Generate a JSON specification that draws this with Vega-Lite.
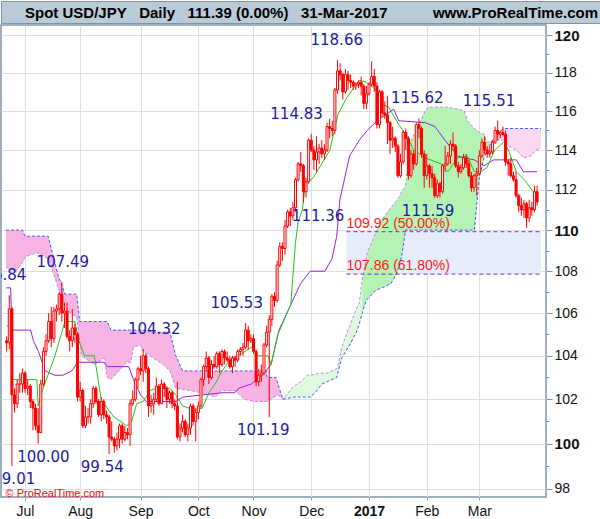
{
  "$schema": "https://vega.github.io/schema/vega-lite/v6.json",
  "padding": 0,
  "autosize": {"type": "pad"},
  "background": "#ffffff",
  "spacing": 0,
  "config": {"view": {"stroke": null}, "font": "Liberation Sans", "concat": {"spacing": 0}},
  "datasets": {
    "ohlc": [
      {"i":1,"o":104.7,"h":104.9,"l":104.2,"c":104.6},{"i":2,"o":104.6,"h":106.84,"l":104.3,"c":106.2},{"i":3,"o":106.2,"h":106.3,"l":99.01,"c":102.2},{"i":4,"o":102.2,"h":102.5,"l":101.4,"c":101.8},{"i":5,"o":101.8,"h":102.9,"l":101.6,"c":102.7},{"i":6,"o":102.7,"h":103.2,"l":102.3,"c":102.7},{"i":7,"o":102.7,"h":103.4,"l":102.3,"c":103.2},{"i":8,"o":103.2,"h":103.3,"l":102.3,"c":102.5},{"i":9,"o":102.5,"h":102.9,"l":102.2,"c":102.6},{"i":10,"o":102.6,"h":102.7,"l":101.6,"c":101.9},
      {"i":11,"o":101.9,"h":102.0,"l":100.6,"c":101.6},{"i":12,"o":101.6,"h":101.8,"l":100.6,"c":100.8},{"i":13,"o":100.8,"h":101.6,"l":100.0,"c":100.5},{"i":14,"o":100.5,"h":102.9,"l":100.5,"c":102.7},{"i":15,"o":102.7,"h":104.4,"l":102.6,"c":104.2},{"i":16,"o":104.2,"h":105.0,"l":104.0,"c":104.7},{"i":17,"o":104.7,"h":106.0,"l":104.6,"c":105.6},{"i":18,"o":105.6,"h":106.3,"l":104.4,"c":104.8},{"i":19,"o":104.8,"h":106.3,"l":104.6,"c":106.1},{"i":20,"o":106.1,"h":106.4,"l":105.6,"c":106.2},
      {"i":21,"o":106.2,"h":107.0,"l":105.9,"c":106.9},{"i":22,"o":106.9,"h":107.49,"l":105.6,"c":106.0},{"i":23,"o":106.0,"h":106.5,"l":105.3,"c":106.1},{"i":24,"o":106.1,"h":106.5,"l":104.8,"c":104.9},{"i":25,"o":104.9,"h":105.2,"l":104.2,"c":104.7},{"i":26,"o":104.7,"h":106.2,"l":104.4,"c":105.3},{"i":27,"o":105.3,"h":105.5,"l":104.6,"c":105.0},{"i":28,"o":105.0,"h":105.1,"l":101.9,"c":102.1},{"i":29,"o":102.1,"h":102.8,"l":101.9,"c":102.4},{"i":30,"o":102.4,"h":102.5,"l":100.7,"c":100.8},
      {"i":31,"o":100.8,"h":101.7,"l":100.7,"c":101.2},{"i":32,"o":101.2,"h":101.6,"l":100.9,"c":101.2},{"i":33,"o":101.2,"h":102.0,"l":100.9,"c":101.8},{"i":34,"o":101.8,"h":102.6,"l":101.6,"c":102.5},{"i":35,"o":102.5,"h":102.6,"l":101.8,"c":101.9},{"i":36,"o":101.9,"h":102.0,"l":101.2,"c":101.3},{"i":37,"o":101.3,"h":102.1,"l":101.0,"c":101.9},{"i":38,"o":101.9,"h":102.0,"l":101.1,"c":101.3},{"i":39,"o":101.3,"h":101.5,"l":100.9,"c":101.2},{"i":40,"o":101.2,"h":101.3,"l":99.54,"c":100.3},
      {"i":41,"o":100.3,"h":101.0,"l":100.1,"c":100.2},{"i":42,"o":100.2,"h":100.3,"l":99.6,"c":99.9},{"i":43,"o":99.9,"h":100.5,"l":99.7,"c":100.2},{"i":44,"o":100.2,"h":100.9,"l":99.8,"c":100.8},{"i":45,"o":100.8,"h":100.9,"l":100.0,"c":100.2},{"i":46,"o":100.2,"h":100.8,"l":100.1,"c":100.5},{"i":47,"o":100.5,"h":100.7,"l":100.2,"c":100.4},{"i":48,"o":100.4,"h":102.0,"l":99.9,"c":101.8},{"i":49,"o":101.8,"h":102.4,"l":101.7,"c":102.0},{"i":50,"o":102.0,"h":103.0,"l":101.9,"c":102.9},
      {"i":51,"o":102.9,"h":103.5,"l":102.5,"c":103.4},{"i":52,"o":103.4,"h":104.0,"l":103.1,"c":103.3},{"i":53,"o":103.3,"h":104.32,"l":102.8,"c":104.0},{"i":54,"o":104.0,"h":104.1,"l":103.2,"c":103.4},{"i":55,"o":103.4,"h":103.5,"l":101.2,"c":101.7},{"i":56,"o":101.7,"h":102.2,"l":101.4,"c":101.8},{"i":57,"o":101.8,"h":102.3,"l":101.3,"c":102.0},{"i":58,"o":102.0,"h":103.0,"l":101.9,"c":102.6},{"i":59,"o":102.6,"h":102.7,"l":101.7,"c":101.8},{"i":60,"o":101.8,"h":102.9,"l":101.8,"c":102.7},
      {"i":61,"o":102.7,"h":102.8,"l":102.1,"c":102.5},{"i":62,"o":102.5,"h":102.6,"l":101.6,"c":102.0},{"i":63,"o":102.0,"h":102.4,"l":101.8,"c":102.3},{"i":64,"o":102.3,"h":102.4,"l":101.6,"c":101.8},{"i":65,"o":101.8,"h":102.0,"l":101.5,"c":101.7},{"i":66,"o":101.7,"h":102.8,"l":100.2,"c":100.3},{"i":67,"o":100.3,"h":100.9,"l":100.1,"c":100.7},{"i":68,"o":100.7,"h":101.3,"l":100.5,"c":101.0},{"i":69,"o":101.0,"h":101.1,"l":100.3,"c":100.4},{"i":70,"o":100.4,"h":100.9,"l":100.1,"c":100.7},
      {"i":71,"o":100.7,"h":101.8,"l":100.4,"c":101.7},{"i":72,"o":101.7,"h":101.8,"l":100.8,"c":101.0},{"i":73,"o":101.0,"h":101.6,"l":100.1,"c":101.4},{"i":74,"o":101.4,"h":101.9,"l":101.1,"c":101.7},{"i":75,"o":101.7,"h":103.0,"l":101.6,"c":102.9},{"i":76,"o":102.9,"h":103.6,"l":102.6,"c":103.5},{"i":77,"o":103.5,"h":104.2,"l":103.3,"c":103.9},{"i":78,"o":103.9,"h":104.0,"l":102.7,"c":103.0},{"i":79,"o":103.0,"h":103.8,"l":102.9,"c":103.6},{"i":80,"o":103.6,"h":104.0,"l":103.4,"c":103.5},
      {"i":81,"o":103.5,"h":104.2,"l":103.4,"c":104.1},{"i":82,"o":104.1,"h":104.2,"l":103.2,"c":103.6},{"i":83,"o":103.6,"h":104.3,"l":103.5,"c":104.2},{"i":84,"o":104.2,"h":104.3,"l":103.6,"c":103.9},{"i":85,"o":103.9,"h":104.2,"l":103.7,"c":103.8},{"i":86,"o":103.8,"h":104.0,"l":103.4,"c":103.5},{"i":87,"o":103.5,"h":104.0,"l":103.2,"c":103.9},{"i":88,"o":103.9,"h":104.0,"l":103.5,"c":103.8},{"i":89,"o":103.8,"h":104.3,"l":103.7,"c":104.2},{"i":90,"o":104.2,"h":104.4,"l":104.0,"c":104.3},
      {"i":91,"o":104.3,"h":104.6,"l":104.0,"c":104.4},{"i":92,"o":104.4,"h":105.53,"l":104.3,"c":105.2},{"i":93,"o":105.2,"h":105.4,"l":104.3,"c":104.7},{"i":94,"o":104.7,"h":105.0,"l":104.6,"c":104.8},{"i":95,"o":104.8,"h":105.0,"l":104.1,"c":104.2},{"i":96,"o":104.2,"h":104.3,"l":102.6,"c":102.8},{"i":97,"o":102.8,"h":103.4,"l":102.6,"c":103.1},{"i":98,"o":103.1,"h":103.6,"l":102.8,"c":103.2},{"i":99,"o":103.2,"h":104.6,"l":103.1,"c":104.5},{"i":100,"o":104.5,"h":105.4,"l":104.4,"c":105.1},
      {"i":101,"o":105.1,"h":105.9,"l":101.19,"c":105.7},{"i":102,"o":105.7,"h":106.9,"l":105.4,"c":106.8},{"i":103,"o":106.8,"h":107.0,"l":106.3,"c":106.6},{"i":104,"o":106.6,"h":108.5,"l":106.5,"c":108.3},{"i":105,"o":108.3,"h":109.4,"l":108.2,"c":109.2},{"i":106,"o":109.2,"h":109.4,"l":108.5,"c":109.1},{"i":107,"o":109.1,"h":110.5,"l":108.8,"c":110.2},{"i":108,"o":110.2,"h":111.0,"l":110.1,"c":110.9},{"i":109,"o":110.9,"h":111.1,"l":110.2,"c":110.7},{"i":110,"o":110.7,"h":111.4,"l":110.5,"c":111.1},
      {"i":111,"o":111.1,"h":112.6,"l":110.9,"c":112.5},{"i":112,"o":112.5,"h":113.4,"l":112.4,"c":113.3},{"i":113,"o":113.3,"h":113.9,"l":112.9,"c":113.2},{"i":114,"o":113.2,"h":113.3,"l":111.36,"c":111.9},{"i":115,"o":111.9,"h":112.6,"l":111.6,"c":112.4},{"i":116,"o":112.4,"h":114.6,"l":112.3,"c":114.5},{"i":117,"o":114.5,"h":114.83,"l":113.9,"c":114.0},{"i":118,"o":114.0,"h":114.2,"l":113.0,"c":113.5},{"i":119,"o":113.5,"h":114.7,"l":112.9,"c":113.9},{"i":120,"o":113.9,"h":114.3,"l":113.3,"c":114.1},
      {"i":121,"o":114.1,"h":114.5,"l":113.6,"c":113.8},{"i":122,"o":113.8,"h":114.3,"l":113.5,"c":114.0},{"i":123,"o":114.0,"h":115.4,"l":113.9,"c":115.2},{"i":124,"o":115.2,"h":115.6,"l":114.6,"c":115.1},{"i":125,"o":115.1,"h":115.5,"l":114.7,"c":115.0},{"i":126,"o":115.0,"h":117.2,"l":114.8,"c":117.1},{"i":127,"o":117.1,"h":118.66,"l":116.9,"c":118.1},{"i":128,"o":118.1,"h":118.5,"l":117.6,"c":117.9},{"i":129,"o":117.9,"h":118.0,"l":116.6,"c":117.0},{"i":130,"o":117.0,"h":118.2,"l":116.9,"c":117.9},
      {"i":131,"o":117.9,"h":118.1,"l":117.1,"c":117.6},{"i":132,"o":117.6,"h":117.9,"l":117.2,"c":117.5},{"i":133,"o":117.5,"h":117.6,"l":117.1,"c":117.3},{"i":134,"o":117.3,"h":117.5,"l":117.1,"c":117.4},{"i":135,"o":117.4,"h":117.6,"l":117.2,"c":117.5},{"i":136,"o":117.5,"h":117.8,"l":116.8,"c":117.3},{"i":137,"o":117.3,"h":117.4,"l":116.1,"c":116.4},{"i":138,"o":116.4,"h":117.3,"l":116.1,"c":116.9},{"i":139,"o":116.9,"h":117.5,"l":116.8,"c":117.4},{"i":140,"o":117.4,"h":118.6,"l":117.3,"c":117.8},
      {"i":141,"o":117.8,"h":118.2,"l":117.0,"c":117.3},{"i":142,"o":117.3,"h":117.5,"l":115.1,"c":115.3},{"i":143,"o":115.3,"h":117.1,"l":115.1,"c":117.0},{"i":144,"o":117.0,"h":117.1,"l":115.7,"c":115.9},{"i":145,"o":115.9,"h":116.5,"l":115.6,"c":115.8},{"i":146,"o":115.8,"h":116.8,"l":114.3,"c":115.4},{"i":147,"o":115.4,"h":115.5,"l":113.8,"c":114.5},{"i":148,"o":114.5,"h":115.2,"l":114.1,"c":114.6},{"i":149,"o":114.6,"h":114.7,"l":113.9,"c":114.2},{"i":150,"o":114.2,"h":114.3,"l":112.6,"c":112.7},
      {"i":151,"o":112.7,"h":113.8,"l":112.6,"c":113.4},{"i":152,"o":113.4,"h":115.0,"l":113.3,"c":114.9},{"i":153,"o":114.9,"h":115.1,"l":114.0,"c":114.6},{"i":154,"o":114.6,"h":114.7,"l":112.5,"c":112.7},{"i":155,"o":112.7,"h":114.0,"l":112.6,"c":113.8},{"i":156,"o":113.8,"h":114.0,"l":113.0,"c":113.3},{"i":157,"o":113.3,"h":115.4,"l":113.2,"c":115.3},{"i":158,"o":115.3,"h":115.62,"l":114.6,"c":115.1},{"i":159,"o":115.1,"h":115.2,"l":113.6,"c":113.8},{"i":160,"o":113.8,"h":114.0,"l":112.1,"c":112.7},
      {"i":161,"o":112.7,"h":113.8,"l":112.5,"c":113.2},{"i":162,"o":113.2,"h":113.3,"l":112.1,"c":112.8},{"i":163,"o":112.8,"h":113.2,"l":112.1,"c":112.6},{"i":164,"o":112.6,"h":112.8,"l":111.6,"c":111.7},{"i":165,"o":111.7,"h":112.5,"l":111.59,"c":112.3},{"i":166,"o":112.3,"h":112.4,"l":111.6,"c":111.9},{"i":167,"o":111.9,"h":113.3,"l":111.8,"c":113.2},{"i":168,"o":113.2,"h":114.2,"l":112.9,"c":113.3},{"i":169,"o":113.3,"h":113.9,"l":113.2,"c":113.7},{"i":170,"o":113.7,"h":114.5,"l":113.3,"c":114.3},
      {"i":171,"o":114.3,"h":114.9,"l":114.0,"c":114.2},{"i":172,"o":114.2,"h":114.3,"l":113.1,"c":113.2},{"i":173,"o":113.2,"h":113.4,"l":112.6,"c":112.9},{"i":174,"o":112.9,"h":113.3,"l":112.8,"c":113.1},{"i":175,"o":113.1,"h":113.8,"l":113.0,"c":113.6},{"i":176,"o":113.6,"h":113.8,"l":113.1,"c":113.3},{"i":177,"o":113.3,"h":113.5,"l":112.6,"c":112.7},{"i":178,"o":112.7,"h":112.9,"l":111.9,"c":112.1},{"i":179,"o":112.1,"h":112.8,"l":111.9,"c":112.7},{"i":180,"o":112.7,"h":113.1,"l":111.7,"c":112.8},
      {"i":181,"o":112.8,"h":114.0,"l":112.7,"c":113.7},{"i":182,"o":113.7,"h":114.6,"l":113.6,"c":114.4},{"i":183,"o":114.4,"h":114.7,"l":113.8,"c":114.0},{"i":184,"o":114.0,"h":114.2,"l":113.6,"c":113.8},{"i":185,"o":113.8,"h":114.2,"l":113.6,"c":113.9},{"i":186,"o":113.9,"h":114.5,"l":113.8,"c":114.4},{"i":187,"o":114.4,"h":115.2,"l":114.3,"c":115.0},{"i":188,"o":115.0,"h":115.51,"l":114.5,"c":114.8},{"i":189,"o":114.8,"h":115.0,"l":114.6,"c":114.9},{"i":190,"o":114.9,"h":115.2,"l":114.7,"c":114.8},
      {"i":191,"o":114.8,"h":115.0,"l":113.2,"c":113.4},{"i":192,"o":113.4,"h":113.5,"l":112.7,"c":113.3},{"i":193,"o":113.3,"h":113.6,"l":112.6,"c":112.7},{"i":194,"o":112.7,"h":112.9,"l":112.4,"c":112.5},{"i":195,"o":112.5,"h":112.9,"l":111.6,"c":111.7},{"i":196,"o":111.7,"h":111.8,"l":110.9,"c":111.2},{"i":197,"o":111.2,"h":111.6,"l":110.7,"c":111.0},{"i":198,"o":111.0,"h":111.5,"l":110.6,"c":111.3},{"i":199,"o":111.3,"h":111.4,"l":110.11,"c":110.6},{"i":200,"o":110.6,"h":111.5,"l":110.4,"c":111.1},
      {"i":201,"o":111.1,"h":111.4,"l":110.7,"c":111.0},{"i":202,"o":111.0,"h":112.2,"l":110.9,"c":111.9},{"i":203,"o":111.9,"h":112.2,"l":111.2,"c":111.39}
    ],
    "tenkan": [
      {"i":1,"v":105.4},{"i":2.5,"v":105.4},{"i":3,"v":102.9},{"i":12.5,"v":102.9},{"i":13,"v":101.7},{"i":14.6,"v":102.4},{"i":19.4,"v":104.0},{"i":23.2,"v":105.6},{"i":26.9,"v":105.6},{"i":28.8,"v":104.6},{"i":30.7,"v":104.0},{"i":34.4,"v":104.0},{"i":37,"v":102.0},{"i":39.3,"v":101.6},{"i":41.9,"v":101.2},{"i":46.7,"v":100.8},{"i":48.6,"v":101.0},{"i":50.5,"v":101.8},{"i":53,"v":101.9},{"i":55.7,"v":102.4},{"i":58,"v":102.5},{"i":63.2,"v":102.5},{"i":65.4,"v":102.2},{"i":68,"v":101.7},{"i":72.9,"v":101.5},{"i":75.5,"v":101.6},{"i":78,"v":102.3},{"i":80.4,"v":102.7},{"i":83,"v":103.3},{"i":86.7,"v":103.9},{"i":90.5,"v":104.1},{"i":94.2,"v":104.4},{"i":96.8,"v":104.0},{"i":100.5,"v":104.0},{"i":101.7,"v":103.6},{"i":104.3,"v":105.0},{"i":109.2,"v":106.4},{"i":111,"v":109.4},{"i":112,"v":110.4},{"i":113.6,"v":111.0},{"i":114.8,"v":112.3},{"i":117.8,"v":112.6},{"i":124.1,"v":114.0},{"i":127.1,"v":115.8},{"i":130.5,"v":116.7},{"i":135.3,"v":117.6},{"i":137.9,"v":117.5},{"i":141.7,"v":117.1},{"i":142.8,"v":116.4},{"i":146.5,"v":116.2},{"i":150.3,"v":115.3},{"i":154,"v":114.6},{"i":155.9,"v":114.0},{"i":160.4,"v":113.6},{"i":166.4,"v":113.3},{"i":169,"v":112.9},{"i":172.7,"v":113.6},{"i":176.4,"v":113.7},{"i":179.1,"v":112.9},{"i":181.3,"v":112.9},{"i":183.9,"v":113.1},{"i":186.9,"v":114.0},{"i":190.3,"v":114.4},{"i":192.1,"v":114.0},{"i":195.1,"v":112.9},{"i":198.1,"v":112.5},{"i":201.5,"v":111.9},{"i":203,"v":111.6}
    ],
    "kijun": [
      {"i":0.75,"v":107.2},{"i":2.5,"v":107.2},{"i":3,"v":105.2},{"i":10.1,"v":105.2},{"i":11.2,"v":104.7},{"i":13.1,"v":104.2},{"i":15.7,"v":103.3},{"i":19.4,"v":103.1},{"i":22.4,"v":103.1},{"i":25.8,"v":103.3},{"i":28,"v":103.7},{"i":38.1,"v":103.7},{"i":39.3,"v":103.5},{"i":47.5,"v":103.5},{"i":49.3,"v":102.9},{"i":52,"v":102.2},{"i":54.2,"v":101.9},{"i":65.4,"v":101.9},{"i":68,"v":102.1},{"i":75.5,"v":102.2},{"i":83,"v":102.3},{"i":87.9,"v":102.3},{"i":89.3,"v":102.5},{"i":94.2,"v":102.7},{"i":99.1,"v":103.2},{"i":101.7,"v":103.6},{"i":104.7,"v":105.2},{"i":109.2,"v":106.4},{"i":112.9,"v":107.4},{"i":116.6,"v":108.0},{"i":122.2,"v":108.0},{"i":124.9,"v":108.6},{"i":126.7,"v":109.7},{"i":127.9,"v":111.5},{"i":131.6,"v":113.7},{"i":135.3,"v":114.5},{"i":138.3,"v":115.0},{"i":142.1,"v":115.5},{"i":148.4,"v":116.1},{"i":150.3,"v":115.5},{"i":160.4,"v":115.4},{"i":164.1,"v":115.2},{"i":167.9,"v":114.5},{"i":172.7,"v":113.7},{"i":175.3,"v":113.6},{"i":179.1,"v":113.5},{"i":182.8,"v":113.2},{"i":186.5,"v":113.5},{"i":195.1,"v":113.5},{"i":197.8,"v":112.9},{"i":203,"v":112.9}
    ],
    "cloud": [
      {"i":0.75,"a":108.2,"b":110.0,"s":"p1"},{"i":4.5,"a":108.0,"b":110.0,"s":"p1"},{"i":7,"a":108.4,"b":110.0,"s":"p1"},{"i":8,"a":108.7,"b":109.7,"s":"p1"},{"i":12.7,"a":108.9,"b":109.7,"s":"p1"},{"i":16.8,"a":108.6,"b":109.7,"s":"p1"},{"i":19.4,"a":107.7,"b":108.4,"s":"p1"},{"i":20.6,"a":107.2,"b":107.8,"s":"p1"},{"i":22.1,"a":106.7,"b":107.3,"s":"p1"},{"i":23.2,"a":106.3,"b":106.9,"s":"p1"},{"i":24.3,"a":106.1,"b":106.9,"s":"p1"},{"i":27.7,"a":105.8,"b":106.9,"s":"p1"},{"i":28.8,"a":104.7,"b":105.6,"s":"p1"},{"i":29.5,"a":104.0,"b":105.6,"s":"p1"},{"i":30.7,"a":103.9,"b":105.6,"s":"p1"},{"i":34.4,"a":103.6,"b":105.6,"s":"p1"},{"i":37,"a":103.8,"b":105.6,"s":"p1"},{"i":38.1,"a":103.9,"b":105.6,"s":"p1"},{"i":39.3,"a":103.0,"b":105.6,"s":"p1"},{"i":40.7,"a":102.9,"b":105.2,"s":"p1"},{"i":43,"a":103.2,"b":105.2,"s":"p1"},{"i":46.7,"a":103.7,"b":105.2,"s":"p1"},{"i":48.2,"a":103.7,"b":105.2,"s":"p1"},{"i":49.3,"a":104.4,"b":105.2,"s":"p1"},{"i":52,"a":104.5,"b":105.2,"s":"p1"},{"i":53.1,"a":104.2,"b":105.2,"s":"p1"},{"i":58,"a":103.8,"b":105.1,"s":"p1"},{"i":60.6,"a":103.6,"b":105.1,"s":"p1"},{"i":63.2,"a":103.3,"b":105.1,"s":"p1"},{"i":65.4,"a":102.5,"b":104.0,"s":"p1"},{"i":68,"a":102.45,"b":103.3,"s":"p1"},{"i":70.7,"a":102.4,"b":103.3,"s":"p1"},{"i":75.5,"a":102.3,"b":103.3,"s":"p1"},{"i":80.4,"a":102.1,"b":103.3,"s":"p1"},{"i":83,"a":102.4,"b":103.3,"s":"p1"},{"i":87.9,"a":102.4,"b":103.3,"s":"p1"},{"i":91.6,"a":102.0,"b":103.3,"s":"p1"},{"i":95.3,"a":101.9,"b":103.3,"s":"p1"},{"i":99.8,"a":101.9,"b":103.3,"s":"p1"},{"i":100.2,"a":101.9,"b":103.0,"s":"p1"},{"i":103.6,"a":102.15,"b":103.0,"s":"p1"},{"i":104.3,"a":102.2,"b":102.7,"s":"p1"},{"i":106.2,"a":102.0,"b":102.0,"s":"p1"},
      {"i":106.2,"a":102.0,"b":102.0,"s":"g1"},{"i":110.3,"a":102.6,"b":102.1,"s":"g1"},{"i":112.9,"a":102.8,"b":102.1,"s":"g1"},{"i":115.5,"a":103.1,"b":102.1,"s":"g1"},{"i":116.6,"a":103.1,"b":102.1,"s":"g1"},{"i":118.5,"a":103.15,"b":102.3,"s":"g1"},{"i":121.1,"a":103.2,"b":102.7,"s":"g1"},{"i":123,"a":103.2,"b":102.8,"s":"g1"},{"i":126.7,"a":103.4,"b":103.0,"s":"g1"},{"i":127.1,"a":103.5,"b":103.2,"s":"g1"},{"i":128.6,"a":104.4,"b":103.9,"s":"g1"},{"i":131.6,"a":105.4,"b":104.5,"s":"g1"},{"i":134.2,"a":106.2,"b":105.1,"s":"g1"},{"i":135.3,"a":106.5,"b":105.5,"s":"g1"},{"i":136.4,"a":107.6,"b":106.0,"s":"g1"},
      {"i":136.4,"a":107.6,"b":106.0,"s":"g2"},{"i":137.9,"a":108.6,"b":106.6,"s":"g2"},{"i":138.3,"a":108.9,"b":106.65,"s":"g2"},{"i":141.7,"a":109.9,"b":107.1,"s":"g2"},{"i":143.9,"a":110.5,"b":107.2,"s":"g2"},{"i":147.3,"a":111.1,"b":107.4,"s":"g2"},{"i":149.2,"a":111.4,"b":107.8,"s":"g2"},{"i":150.3,"a":111.6,"b":108.2,"s":"g2"},{"i":151.4,"a":111.9,"b":108.7,"s":"g2"},{"i":152.9,"a":112.2,"b":110.0,"s":"g2"},{"i":155.1,"a":114.5,"b":110.0,"s":"g2"},{"i":160.4,"a":116.0,"b":110.0,"s":"g2"},{"i":161.5,"a":116.2,"b":110.0,"s":"g2"},{"i":169,"a":116.2,"b":110.0,"s":"g2"},{"i":172.7,"a":116.1,"b":110.0,"s":"g2"},{"i":175.3,"a":116.0,"b":110.0,"s":"g2"},{"i":176.4,"a":115.5,"b":110.0,"s":"g2"},{"i":179.1,"a":115.1,"b":110.0,"s":"g2"},{"i":180.2,"a":115.0,"b":111.5,"s":"g2"},{"i":181,"a":114.9,"b":112.6,"s":"g2"},{"i":182.8,"a":114.8,"b":113.6,"s":"g2"},{"i":183.9,"a":114.4,"b":113.95,"s":"g2"},{"i":185.8,"a":114.45,"b":114.45,"s":"g2"},
      {"i":185.8,"a":114.45,"b":114.45,"s":"p2"},{"i":187.7,"a":114.5,"b":114.8,"s":"p2"},{"i":190.3,"a":114.5,"b":115.1,"s":"p2"},{"i":192.1,"a":114.2,"b":115.1,"s":"p2"},{"i":195.1,"a":114.0,"b":115.1,"s":"p2"},{"i":197.8,"a":113.6,"b":115.1,"s":"p2"},{"i":200.7,"a":113.7,"b":115.1,"s":"p2"},{"i":202.6,"a":114.0,"b":115.1,"s":"p2"},{"i":204.5,"a":114.1,"b":115.1,"s":"p2"}
    ],
    "fib": [
      {"i0":130.4,"i1":204.5,"v":109.92,"t":"109.92 (50.00%)"},
      {"i0":130.4,"i1":204.5,"v":107.86,"t":"107.86 (61.80%)"}
    ],
    "zone": [{"i0":130.4,"i1":204.5,"lo":107.86,"hi":109.92}],
    "labels": [
      {"t":"106.84","i":-1.5,"v":106.84,"k":"h"},
      {"t":"107.49","i":22.4,"v":107.49,"k":"h"},
      {"t":"104.32","i":57.2,"v":104.32,"k":"h"},
      {"t":"105.53","i":88.6,"v":105.53,"k":"h"},
      {"t":"114.83","i":111.4,"v":114.83,"k":"h"},
      {"t":"118.66","i":126.7,"v":118.66,"k":"h"},
      {"t":"115.62","i":157.4,"v":115.62,"k":"h"},
      {"t":"115.51","i":184.7,"v":115.51,"k":"h"},
      {"t":"99.01","i":3.7,"v":99.01,"k":"l"},
      {"t":"100.00","i":15.0,"v":100.0,"k":"l"},
      {"t":"99.54","i":37.4,"v":99.54,"k":"l"},
      {"t":"101.19","i":98.7,"v":101.19,"k":"l"},
      {"t":"111.36","i":119.6,"v":111.36,"k":"l"},
      {"t":"111.59","i":161.5,"v":111.59,"k":"l"}
    ]
  },
  "vconcat": [
    {
      "width": 600,
      "height": 22,
      "view": {"fill": "#b9cbd7", "stroke": "#7f95a6"},
      "data": {"values": [
        {"k": "L", "t": "Spot USD/JPY\u00a0\u00a0\u00a0Daily\u00a0\u00a0\u00a0111.39 (0.00%)\u00a0\u00a0\u00a031-Mar-2017"},
        {"k": "R", "t": "www.ProRealTime.com"}
      ]},
      "layer": [
        {
          "transform": [{"filter": "datum.k == 'L'"}],
          "mark": {"type": "text", "align": "left", "baseline": "middle", "dx": 24, "dy": 1, "font": "Liberation Sans", "fontSize": 15, "fontWeight": "bold", "color": "#000000"},
          "encoding": {
            "x": {"field": "k", "type": "nominal", "scale": {"type": "point", "domain": ["L", "R"], "padding": 0}, "axis": null},
            "text": {"field": "t"}
          }
        },
        {
          "transform": [{"filter": "datum.k == 'R'"}],
          "mark": {"type": "text", "align": "right", "baseline": "middle", "dx": -3, "dy": 1, "font": "Liberation Sans", "fontSize": 15, "fontWeight": "bold", "color": "#000000"},
          "encoding": {
            "x": {"field": "k", "type": "nominal", "axis": null},
            "text": {"field": "t"}
          }
        }
      ]
    },
    {
      "width": 545,
      "height": 472,
      "view": {"stroke": "#8194a6", "strokeWidth": 1.5, "fill": "#ffffff"},
      "layer": [
        {
          "data": {"name": "zone"},
          "mark": {"type": "rect", "color": "#e7ecfb", "clip": true},
          "encoding": {
            "x": {"field": "i0", "type": "quantitative",
              "scale": {"domain": [0.75, 204.49], "nice": false, "zero": false},
              "axis": {
                "orient": "bottom",
                "values": [8, 29, 52, 74, 95, 117, 139, 161, 181],
                "labelExpr": "['Jul','Aug','Sep','Oct','Nov','Dec','2017','Feb','Mar'][indexof([8,29,52,74,95,117,139,161,181], datum.value)]",
                "grid": true, "gridColor": "#dedede", "domain": false,
                "tickSize": 3, "tickColor": "#8a9aaa",
                "labelFont": "Liberation Sans", "labelFontSize": 14, "labelColor": "#111111",
                "labelFontWeight": {"condition": {"test": "datum.value == 139", "value": "bold"}, "value": "normal"},
                "labelPadding": 4, "labelFlush": false, "labelOverlap": false,
                "title": "© ProRealTime.com", "titleAnchor": "start", "titleAlign": "left", "titleBaseline": "alphabetic",
                "titleX": 4, "titleY": -1, "titleColor": "#ff0000", "titleFontSize": 11, "titleFontWeight": "normal", "titleFont": "Liberation Sans"
              }
            },
            "x2": {"field": "i1"},
            "y": {"field": "lo", "type": "quantitative",
              "scale": {"type": "log", "domain": [97.65, 120.54], "nice": false},
              "axis": {
                "orient": "right",
                "values": [98,99,100,101,102,103,104,105,106,107,108,109,110,111,112,113,114,115,116,117,118,119,120],
                "labelExpr": "datum.value % 2 == 0 ? format(datum.value, 'd') : ''",
                "grid": true, "gridColor": "#dedede",
                "gridOpacity": {"condition": {"test": "datum.value % 2 == 0", "value": 1}, "value": 0},
                "domain": false,
                "tickColor": "#7f8fa0",
                "tickSize": {"condition": {"test": "datum.value % 2 == 0", "value": 6}, "value": 3},
                "labelFont": "Liberation Sans",
                "labelFontSize": {"condition": {"test": "datum.value % 10 == 0", "value": 15}, "value": 14},
                "labelFontWeight": {"condition": {"test": "datum.value % 10 == 0", "value": "bold"}, "value": "normal"},
                "labelColor": "#111111", "labelPadding": 2, "labelOverlap": false, "title": null
              }
            },
            "y2": {"field": "hi"}
          }
        },
        {
          "data": {"name": "cloud"},
          "mark": {"type": "area", "clip": true, "interpolate": "linear"},
          "encoding": {
            "x": {"field": "i", "type": "quantitative"},
            "y": {"field": "a", "type": "quantitative"},
            "y2": {"field": "b"},
            "color": {"field": "s", "type": "nominal", "legend": null,
              "scale": {"domain": ["p1", "g1", "g2", "p2"], "range": ["#f7b3e2", "#dff9df", "#b4f3b4", "#fad8ef"]}}
          }
        },
        {
          "data": {"name": "cloud"},
          "mark": {"type": "line", "clip": true, "color": "#b98be9", "strokeWidth": 1, "strokeDash": [3, 2]},
          "encoding": {
            "x": {"field": "i", "type": "quantitative"},
            "y": {"field": "a", "type": "quantitative"}
          }
        },
        {
          "data": {"name": "cloud"},
          "mark": {"type": "line", "clip": true, "color": "#3b5cf0", "strokeWidth": 1, "strokeDash": [3, 2]},
          "encoding": {
            "x": {"field": "i", "type": "quantitative"},
            "y": {"field": "b", "type": "quantitative"}
          }
        },
        {
          "data": {"name": "fib"},
          "mark": {"type": "rule", "clip": true, "color": "#7a2bbf", "strokeWidth": 1, "strokeDash": [4, 3]},
          "encoding": {
            "x": {"field": "i0", "type": "quantitative"},
            "x2": {"field": "i1"},
            "y": {"field": "v", "type": "quantitative"}
          }
        },
        {
          "data": {"name": "kijun"},
          "mark": {"type": "line", "clip": true, "color": "#9a24cc", "strokeWidth": 1},
          "encoding": {
            "x": {"field": "i", "type": "quantitative"},
            "y": {"field": "v", "type": "quantitative"}
          }
        },
        {
          "data": {"name": "tenkan"},
          "mark": {"type": "line", "clip": true, "color": "#22c322", "strokeWidth": 1},
          "encoding": {
            "x": {"field": "i", "type": "quantitative"},
            "y": {"field": "v", "type": "quantitative"}
          }
        },
        {
          "data": {"name": "ohlc"},
          "mark": {"type": "rule", "clip": true, "color": "#ff0000", "strokeWidth": 1},
          "encoding": {
            "x": {"field": "i", "type": "quantitative"},
            "y": {"field": "l", "type": "quantitative"},
            "y2": {"field": "h"}
          }
        },
        {
          "data": {"name": "ohlc"},
          "mark": {"type": "bar", "clip": true, "width": 2, "stroke": "#ff0000", "strokeWidth": 1},
          "encoding": {
            "x": {"field": "i", "type": "quantitative"},
            "y": {"field": "o", "type": "quantitative"},
            "y2": {"field": "c"},
            "fill": {"condition": {"test": "datum.c < datum.o", "value": "#ff0000"}, "value": "#ffffff"}
          }
        },
        {
          "data": {"name": "fib"},
          "mark": {"type": "text", "clip": true, "align": "left", "baseline": "bottom", "dy": -1, "font": "Liberation Sans", "fontSize": 14, "color": "#ff1a1a"},
          "encoding": {
            "x": {"field": "i0", "type": "quantitative"},
            "y": {"field": "v", "type": "quantitative"},
            "text": {"field": "t"}
          }
        },
        {
          "data": {"name": "labels"},
          "transform": [{"filter": "datum.k == 'h'"}],
          "mark": {"type": "text", "clip": true, "align": "center", "baseline": "middle", "dy": -20, "font": "DejaVu Sans", "fontSize": 15, "color": "#1c1c9c"},
          "encoding": {
            "x": {"field": "i", "type": "quantitative"},
            "y": {"field": "v", "type": "quantitative"},
            "text": {"field": "t"}
          }
        },
        {
          "data": {"name": "labels"},
          "transform": [{"filter": "datum.k == 'l'"}],
          "mark": {"type": "text", "clip": true, "align": "center", "baseline": "middle", "dy": 13, "font": "DejaVu Sans", "fontSize": 15, "color": "#1c1c9c"},
          "encoding": {
            "x": {"field": "i", "type": "quantitative"},
            "y": {"field": "v", "type": "quantitative"},
            "text": {"field": "t"}
          }
        }
      ]
    }
  ]
}
